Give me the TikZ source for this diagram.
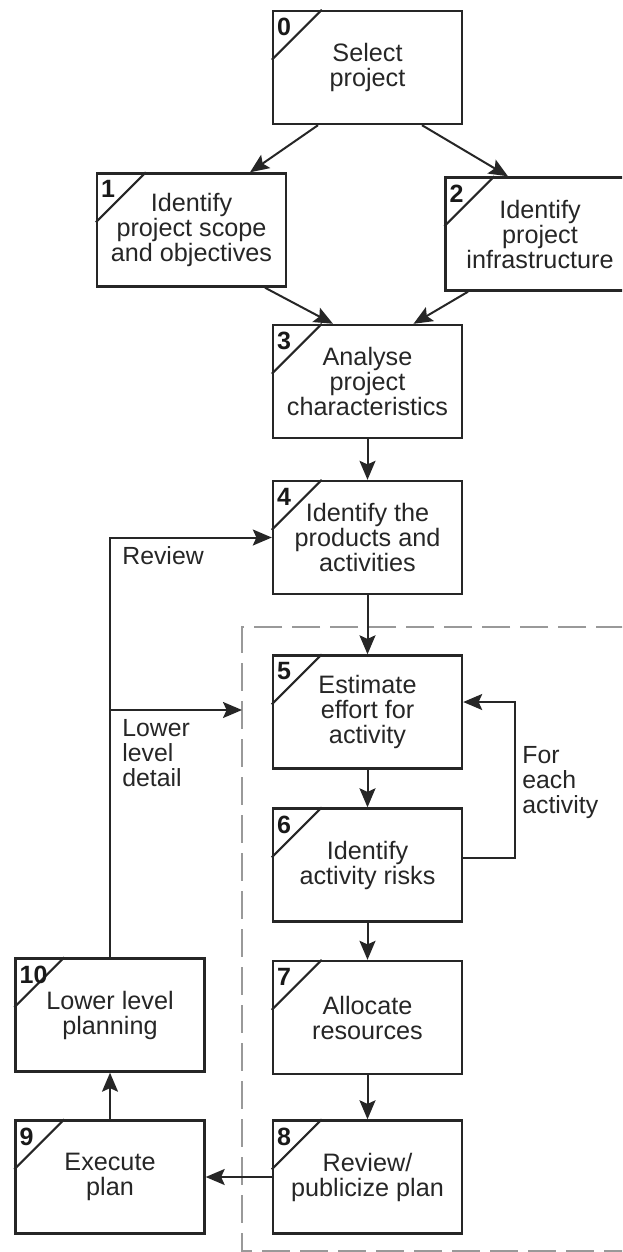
\documentclass[tikz,border=0pt]{standalone}
\usepackage{fontspec}
\setmainfont{Liberation Sans}
\usetikzlibrary{positioning,calc,arrows.meta}
\tikzset{>={Stealth[length=9.5pt,width=8pt,inset=1.8pt]}}
\tikzset{
  task/.style={draw=black!85,line width=1.2pt,minimum width=94.5pt,minimum height=56.5pt,
    align=center,inner sep=0pt,text=black!85,font=\fontsize{12.6}{12.5}\selectfont},
  tasknum/.style={anchor=north west,inner sep=0pt,text=black!90,font=\fontsize{12.5}{12.5}\selectfont\bfseries},
  note/.style={anchor=north west,align=left,inner sep=0pt,text=black!85,font=\fontsize{12.4}{12.5}\selectfont},
  flow/.style={->,draw=black!85,line width=1pt},
  frame/.style={gray!80,line width=1pt,dash pattern=on 14pt off 5pt},
}
\newcommand{\tasktag}[2]{%
  \draw[black!85,line width=1pt] ($(#1.north west)+(0,50)$) -- ($(#1.north west)+(50,0)$);
  \node[tasknum] at ($(#1.north west)+(5,8)$) {#2};}

\begin{document}
\begin{tikzpicture}[x=0.5pt,y=-0.5pt]
\useasboundingbox (0,0) rectangle (622,1252);
\clip (0,0) rectangle (622,1252);
\coordinate (corner) at (242,627);
\draw[frame] (700,627) -- (corner) -- (242,1251) -- (700,1251);
\node[task] (b0) at (367.5,67.5) {Select\\project};
\node[task] (b1) at (191.5,230) {Identify\\project scope\\and objectives};
\node[task] (b2) at (540,234) {Identify\\project\\infrastructure};
\node[task] (b3) at (367.5,381.5) {Analyse\\project\\characteristics};
\node[task] (b4) at (367.5,537.5) {Identify the\\products and\\activities};
\node[task] (b5) at (367.5,712) {Estimate\\effort for\\activity};
\node[task] (b6) at (367.5,865) {Identify\\activity risks};
\node[task] (b7) at (367.5,1017.5) {Allocate\\resources};
\node[task] (b8) at (367.5,1177) {Review/\\publicize plan};
\node[task] (b9) at (110,1177) {Execute\\plan};
\node[task] (b10) at (110,1015) {Lower level\\planning};
\foreach \b/\n in {b0/0,b1/1,b2/2,b3/3,b4/4,b5/5,b6/6,b7/7,b8/8,b9/9,b10/10}
  \tasktag{\b}{\n};
\draw[flow] ($(b0.south)+(-49.5,0)$) -- ($(b1.north)+(58.5,0)$);
\draw[flow] ($(b0.south)+(54.5,0)$) -- ($(b2.north)+(-32,0)$);
\draw[flow] ($(b1.south)+(73.5,0)$) -- ($(b3.north)+(-34.5,0)$);
\draw[flow] ($(b2.south)+(-72,0)$) -- ($(b3.north)+(46,0)$);
\foreach \a/\b in {b3/b4,b4/b5,b5/b6,b6/b7,b7/b8}
  \draw[flow] (\a.south) -- (\b.north);
\draw[flow] (b8.west) -- (b9.east);
\draw[flow] (b9.north) -- (b10.south);
\draw[flow] (b10.north) |- (b4.west);
\coordinate (lowdetail) at (corner |- 0,710);
\draw[flow] (b10.north |- lowdetail) -- (lowdetail);
\draw[flow] ($(b6.east)+(0,-7)$) -- ++(52,0) |- ($(b5.east)+(0,-10)$);
\node[note] (review) at (122,546) {Review};
\node[note] (lowlab) at (122,719) {Lower\\level\\detail};
\node[note] (each) at (522,746) {For\\each\\activity};
\end{tikzpicture}
\end{document}
